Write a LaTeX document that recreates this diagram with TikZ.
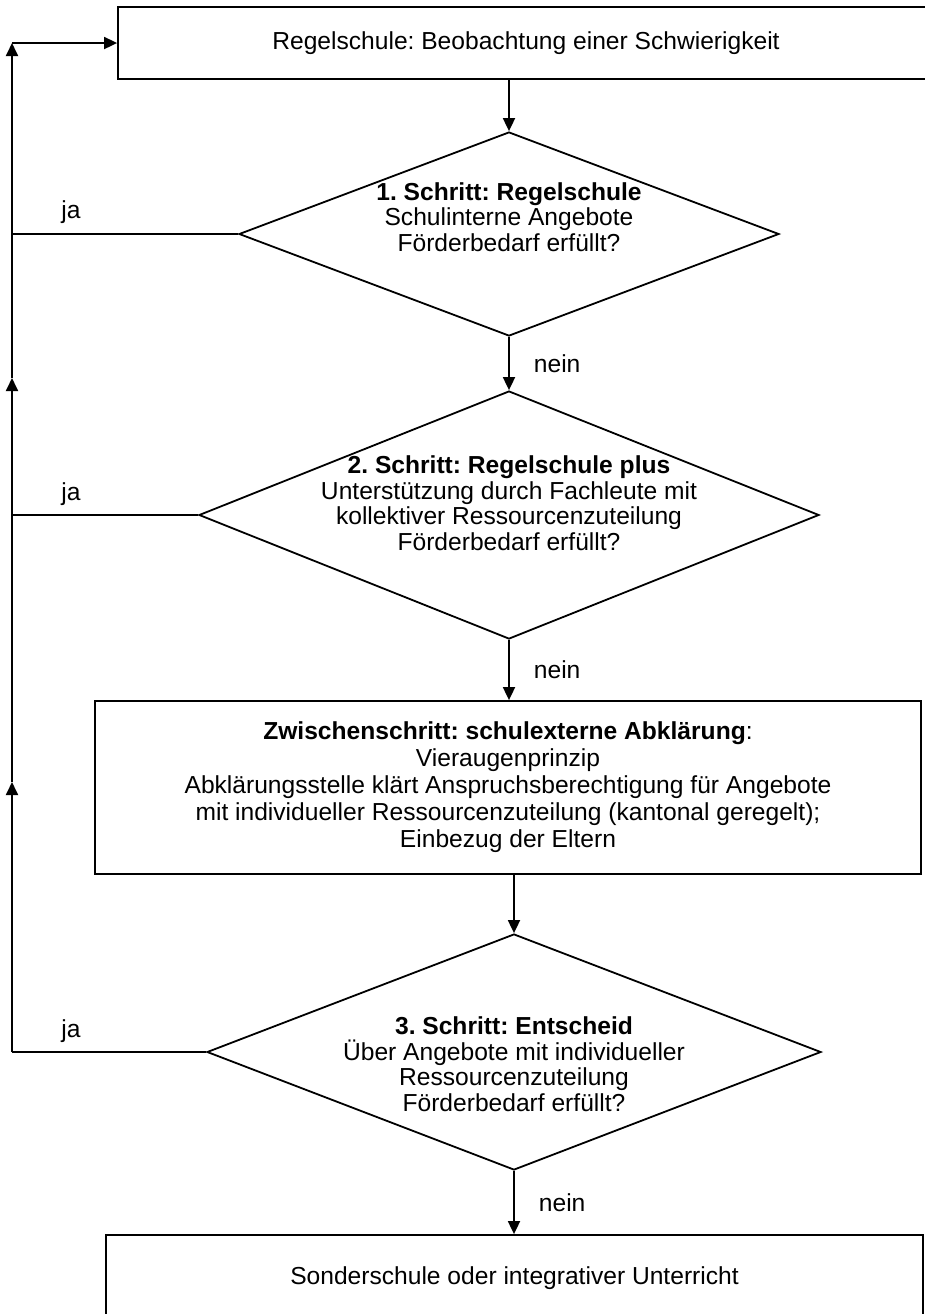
\documentclass[tikz,border=0pt]{standalone}
\usepackage{fontspec}
\setmainfont{Liberation Sans}
\usetikzlibrary{shapes.geometric,arrows.meta}
\frenchspacing
\begin{document}
\begin{tikzpicture}[x=0.5pt,y=-0.5pt,
  line width=0.9pt,
  arr/.style={-{Triangle[length=6.5pt,width=6pt]}},
  boxnode/.style={draw, rectangle, inner sep=0pt, align=center, font=\fontsize{12.3pt}{13.5pt}\selectfont},
  dia/.style={draw, diamond, inner sep=0pt},
  dtext/.style={align=center, inner sep=0pt, font=\fontsize{12.3pt}{12.75pt}\selectfont},
  lbl/.style={inner sep=0pt, font=\fontsize{12.3pt}{14pt}\selectfont}]
\useasboundingbox (0,0) rectangle (925,1314);
\clip (0,0) rectangle (925,1314);

% boxes
\node[boxnode, minimum width=408pt, minimum height=36pt] (top) at (526,43) {Regelschule: Beobachtung einer Schwierigkeit};
\node[boxnode, minimum width=413pt, minimum height=86.5pt] (zw) at (508,787.5) {\textbf{Zwischenschritt: schulexterne Abklärung}:\\Vieraugenprinzip\\Abklärungsstelle klärt Anspruchsberechtigung für Angebote\\mit individueller Ressourcenzuteilung (kantonal geregelt);\\Einbezug der Eltern};
\node[boxnode, minimum width=408.5pt, minimum height=43pt] (bot) at (514.5,1278) {Sonderschule oder integrativer Unterricht};

% diamonds
\node[dia, minimum width=270pt, minimum height=102pt] (d1) at (509,234) {};
\node[dia, minimum width=310pt, minimum height=124pt] (d2) at (509,515) {};
\node[dia, minimum width=307pt, minimum height=118pt] (d3) at (514,1052) {};

\node[dtext] (t1) at (509,217) {\textbf{1. Schritt: Regelschule}\\Schulinterne Angebote\\Förderbedarf erfüllt?};
\node[dtext] (t2) at (509,503) {\textbf{2. Schritt: Regelschule plus}\\Unterstützung durch Fachleute mit\\kollektiver Ressourcenzuteilung\\Förderbedarf erfüllt?};
\node[dtext] (t3) at (514,1064) {\textbf{3. Schritt: Entscheid}\\Über Angebote mit individueller\\Ressourcenzuteilung\\Förderbedarf erfüllt?};

% rail coordinates
\coordinate (rail) at (12,0);
\coordinate (aA) at (12,782);
\coordinate (aB) at (12,378);
\coordinate (aT) at (12,43);

% main flow
\draw[arr] (d1.north |- top.south) -- (d1.north);
\draw[arr] (d1.south) -- node[lbl, midway, anchor=west, xshift=12pt] (n1) {nein} (d2.north);
\draw[arr] (d2.south) -- node[lbl, midway, anchor=west, xshift=12pt] (n2) {nein} (d2.south |- zw.north);
\draw[arr] (d3.north |- zw.south) -- (d3.north);
\draw[arr] (d3.south) -- node[lbl, midway, anchor=west, xshift=12pt] (n3) {nein} (d3.south |- bot.north);

% ja branches
\draw (d1.west) -- (d1.west -| rail);
\draw (d2.west) -- (d2.west -| rail);
\draw (d3.west) -- (d3.west -| rail);
\node[lbl] (j1) at (71,212) {ja};
\node[lbl] (j2) at (71,494) {ja};
\node[lbl] (j3) at (71,1031) {ja};

% return rail
\draw[arr] (d3.west -| rail) -- (aA);
\draw[arr] (aA) -- (aB);
\draw[arr] (aB) -- (aT);
\draw[arr] (aT) -- (top.west);
\end{tikzpicture}
\end{document}
